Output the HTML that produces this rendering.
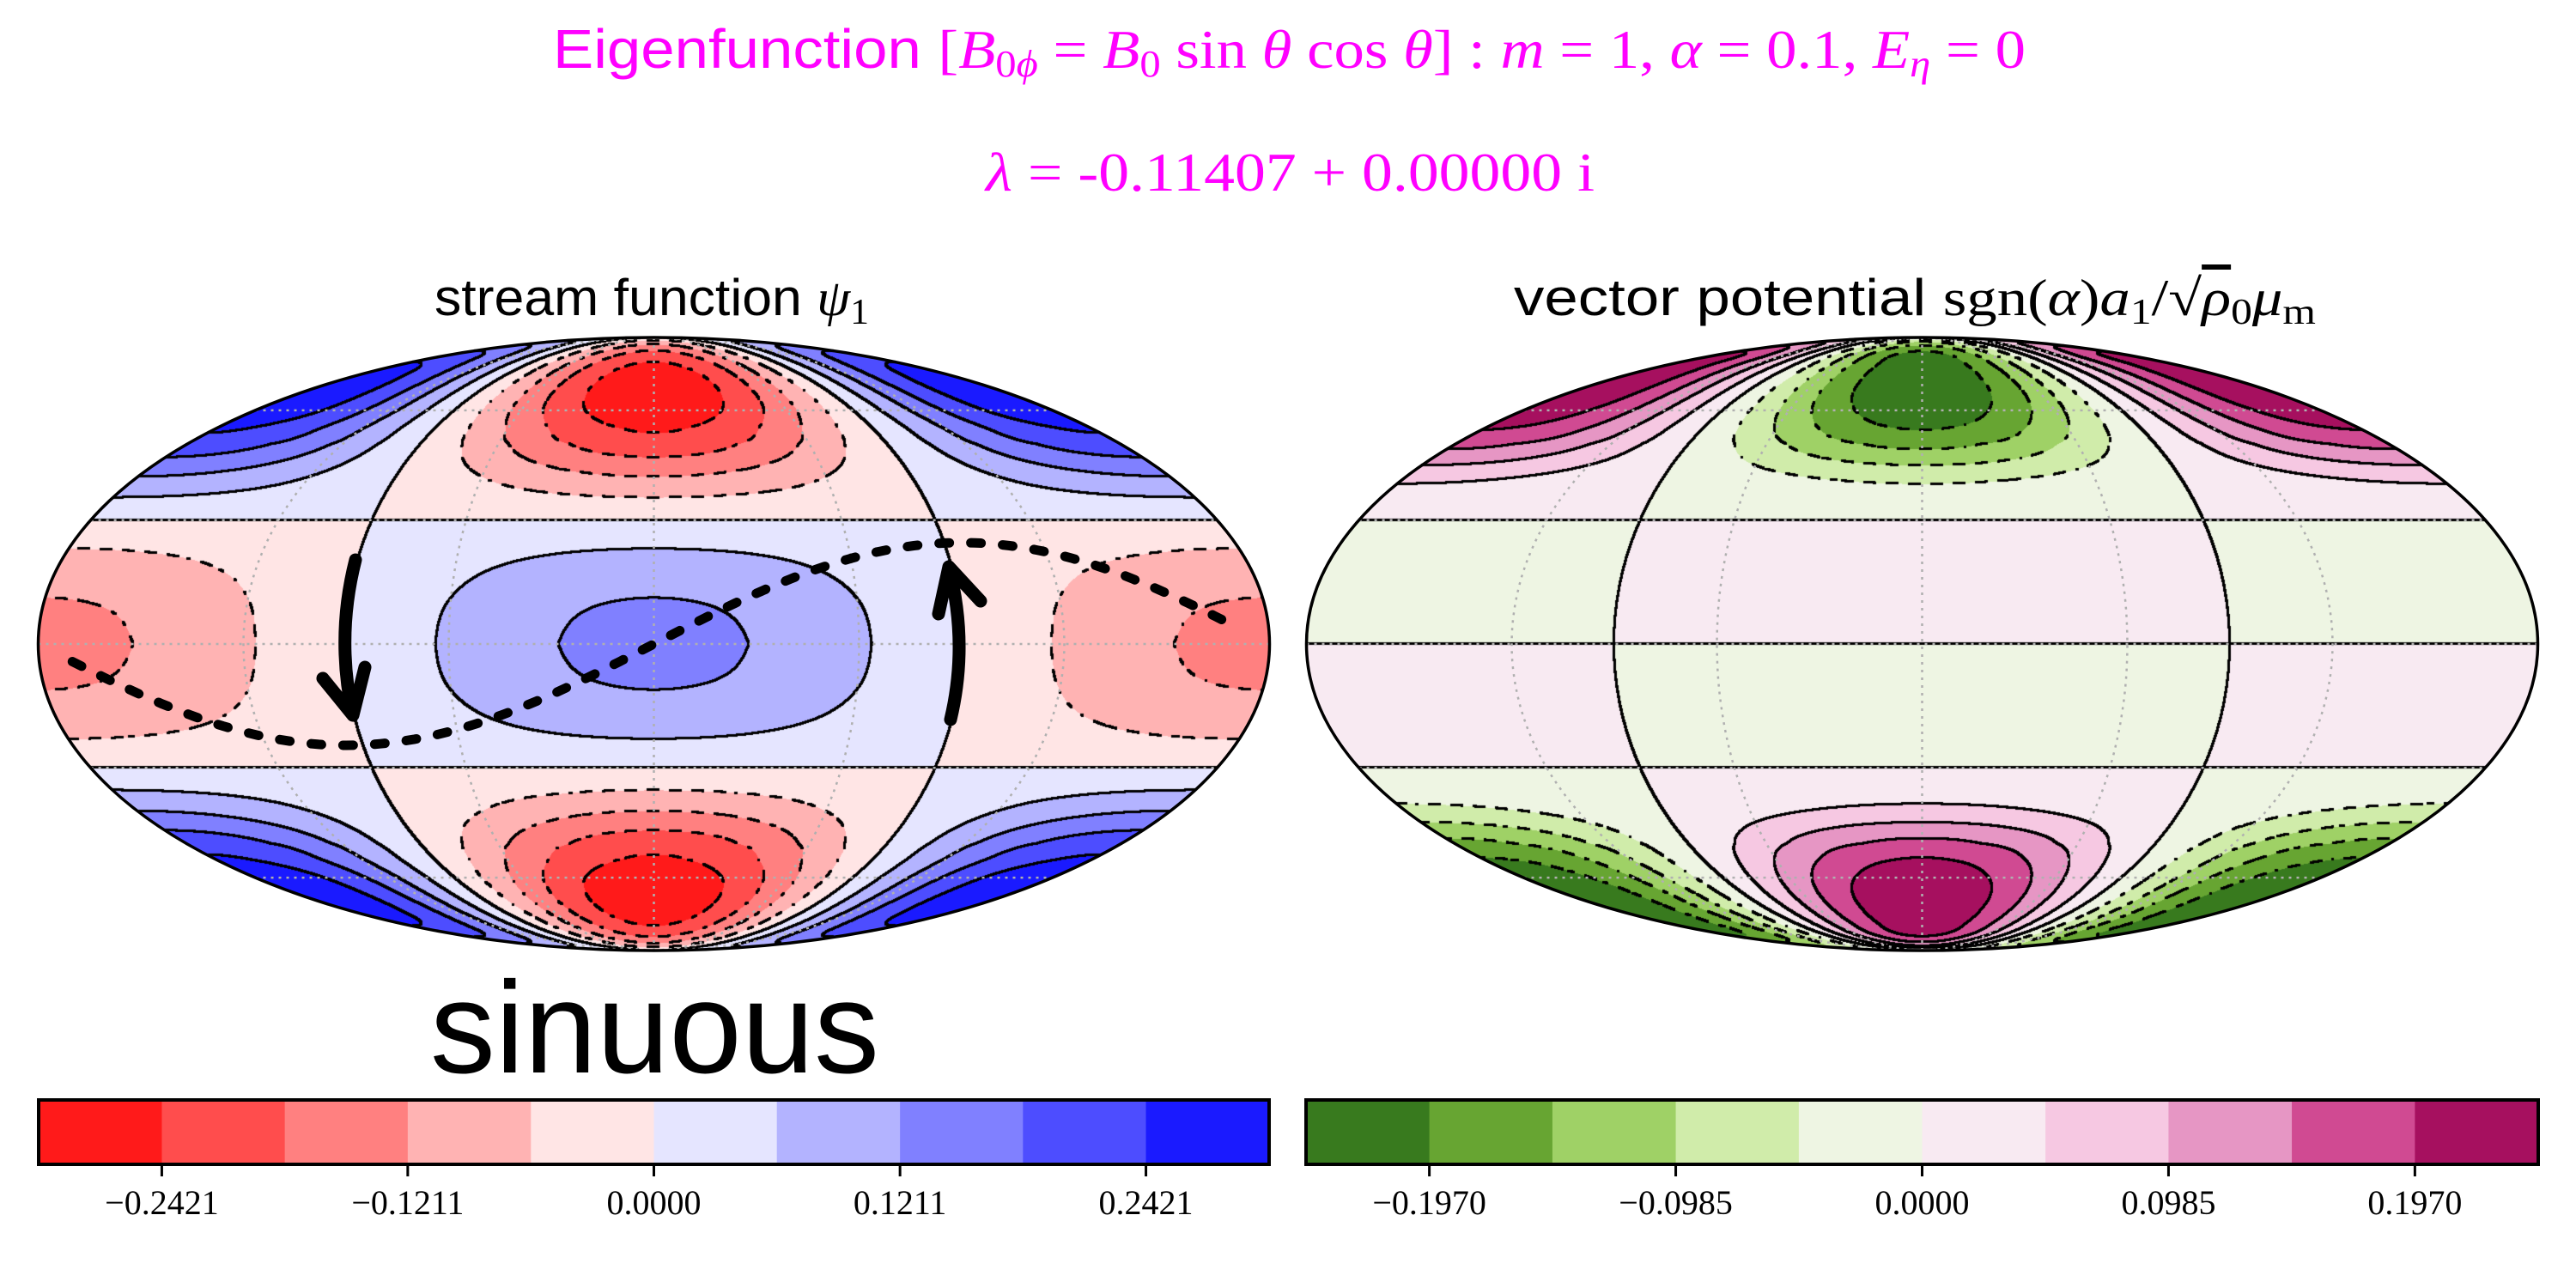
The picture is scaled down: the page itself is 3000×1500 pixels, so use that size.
<!DOCTYPE html>
<html><head><meta charset="utf-8">
<style>
html,body{margin:0;padding:0;background:#fff;}
#wrap{position:relative;width:3000px;height:1500px;overflow:hidden;}
canvas,svg{position:absolute;left:0;top:0;}
</style></head>
<body>
<div id="wrap">
<canvas id="cv" width="3000" height="1500"></canvas>
<svg id="sv" width="3000" height="1500" xmlns="http://www.w3.org/2000/svg">
  <g font-family="Liberation Serif, serif" fill="#ff00ff">
    <text x="644" y="79" font-size="64" textLength="1715" lengthAdjust="spacingAndGlyphs"><tspan font-family="Liberation Sans, sans-serif">Eigenfunction </tspan>[<tspan font-style="italic">B</tspan><tspan font-size="44" dy="10">0<tspan font-style="italic">ϕ</tspan></tspan><tspan dy="-10"> = </tspan><tspan font-style="italic">B</tspan><tspan font-size="44" dy="10">0</tspan><tspan dy="-10"> sin </tspan><tspan font-style="italic">θ</tspan> cos <tspan font-style="italic">θ</tspan>] : <tspan font-style="italic">m</tspan> = 1, <tspan font-style="italic">α</tspan> = 0.1, <tspan font-style="italic">E</tspan><tspan font-size="44" dy="10" font-style="italic">η</tspan><tspan dy="-10"> = 0</tspan></text>
    <text x="1148" y="222" font-size="64" textLength="709" lengthAdjust="spacingAndGlyphs"><tspan font-style="italic">λ</tspan> = -0.11407 + 0.00000 i</text>
  </g>
  <text x="506" y="367" font-family="Liberation Sans, sans-serif" font-size="60" textLength="506" lengthAdjust="spacingAndGlyphs">stream function <tspan font-family="Liberation Serif, serif" font-style="italic">ψ</tspan><tspan font-family="Liberation Serif, serif" font-size="42" dy="10">1</tspan></text>
  <text x="1763" y="367" font-family="Liberation Sans, sans-serif" font-size="60" textLength="934" lengthAdjust="spacingAndGlyphs">vector potential <tspan font-family="Liberation Serif, serif">sgn(<tspan font-style="italic">α</tspan>)<tspan font-style="italic">a</tspan><tspan font-size="42" dy="10">1</tspan><tspan dy="-10">/√</tspan><tspan font-style="italic" text-decoration="overline">ρ</tspan><tspan font-size="42" dy="10">0</tspan><tspan dy="-10" font-style="italic">μ</tspan><tspan font-size="42" dy="10">m</tspan></tspan></text>
  <g id="grid"></g>
  <g id="outlines"></g>
  <g id="annot"></g>
  <g id="cbars"></g>
  <text x="501" y="1249" font-family="Liberation Sans, sans-serif" font-size="152" textLength="523" lengthAdjust="spacingAndGlyphs">sinuous</text>
</svg>
</div>
<script>
// ---- data ----
const psiLevels = [-0.3027,-0.2421,-0.1816,-0.1211,-0.0605,0,0.0605,0.1211,0.1816,0.2421,0.3027];
const psiColors = ['#ff1a1a','#ff4d4d','#ff8080','#ffb3b3','#ffe5e5','#e5e5ff','#b3b3ff','#8080ff','#4d4dff','#1a1aff'];
const psiTickValues = [-0.2421,-0.1211,0,0.1211,0.2421];
const psiTickLabels = ['\u22120.2421','\u22120.1211','0.0000','0.1211','0.2421'];
const aLevels = [-0.2463,-0.1970,-0.1478,-0.0985,-0.0493,0,0.0493,0.0985,0.1478,0.1970,0.2463];
const aColors = ['#387a1e','#67a532','#9fd166','#d0ecaa','#eef5e3','#f8eaf2','#f6c8e2','#e696c4','#d04a92','#a6105f'];
const aTickValues = [-0.1970,-0.0985,0,0.0985,0.1970];
const aTickLabels = ['\u22120.1970','\u22120.0985','0.0000','0.0985','0.1970'];
// latitude profiles (deg); field = profile(lat) * cos(lon)
const profileLats = [0,10,20,30,40,50,55,60,65,70,75,80,85,90];
const psiProfile  = [0.137,0.124,0.080,0,-0.108,-0.215,-0.252,-0.282,-0.292,-0.284,-0.256,-0.205,-0.115,0];
const aProfile    = [0,0.020,0.026,0,-0.055,-0.160,-0.203,-0.228,-0.240,-0.240,-0.232,-0.212,-0.130,0]; // odd in latitude

const R2D=180/Math.PI;
const panels=[{cx:761.5,cy:750,rx:717,ry:357,levels:psiLevels,colors:psiColors,prof:psiProfile,odd:false,cbx0:45,cbx1:1478,ticks:psiTickValues,labels:psiTickLabels,name:'stream-function'},
              {cx:2238.5,cy:750,rx:717,ry:357,levels:aLevels,colors:aColors,prof:aProfile,odd:true,cbx0:1521,cbx1:2956,ticks:aTickValues,labels:aTickLabels,name:'vector-potential'}];

function interp(prof,latAbs){
  const L=profileLats; let i=0;
  while(i<L.length-2 && latAbs>L[i+1]) i++;
  const t=(latAbs-L[i])/(L[i+1]-L[i]);
  const p0=prof[Math.max(i-1,0)],p1=prof[i],p2=prof[i+1],p3=prof[Math.min(i+2,L.length-1)];
  const t2=t*t,t3=t2*t;
  return 0.5*((2*p1)+(-p0+p2)*t+(2*p0-5*p1+4*p2-p3)*t2+(-p0+3*p1-3*p2+p3)*t3);
}
function field(p,lat,lon){
  let v=interp(p.prof,Math.abs(lat));
  if(p.odd && lat<0) v=-v;
  return v*Math.cos(lon/R2D);
}
function hex(c){return [parseInt(c.slice(1,3),16),parseInt(c.slice(3,5),16),parseInt(c.slice(5,7),16)];}

const cv=document.getElementById('cv'),ctx=cv.getContext('2d');
const W=3000,H=1500;
const img=ctx.createImageData(W,H);const D=img.data;
for(let i=0;i<D.length;i+=4){D[i]=255;D[i+1]=255;D[i+2]=255;D[i+3]=255;}
panels.forEach(p=>{
  const x0=Math.floor(p.cx-p.rx)-2,x1=Math.ceil(p.cx+p.rx)+2,y0=Math.floor(p.cy-p.ry)-2,y1=Math.ceil(p.cy+p.ry)+2;
  const w=x1-x0+1,h=y1-y0+1;
  const bins=new Int16Array(w*h).fill(-1);
  const cols=p.colors.map(hex);
  for(let y=y0;y<=y1;y++){
    for(let x=x0;x<=x1;x++){
      const X=(x+0.5-p.cx)/p.rx,Y=(p.cy-(y+0.5))/p.ry;
      if(X*X+Y*Y>1) continue;
      const th=Math.asin(Math.max(-1,Math.min(1,Y)));
      const sphi=(2*th+Math.sin(2*th))/Math.PI;
      const lat=Math.asin(Math.max(-1,Math.min(1,sphi)))*R2D;
      const c=Math.cos(th);
      let lon=c>1e-6?180*X/c:0;
      if(lon>180)lon=180;if(lon<-180)lon=-180;
      const v=field(p,lat,lon);
      let b=0;while(b<9 && v>p.levels[b+1]) b++;
      bins[(y-y0)*w+(x-x0)]=b;
      const k=(y*W+x)*4;D[k]=cols[b][0];D[k+1]=cols[b][1];D[k+2]=cols[b][2];
    }
  }
  for(let y=y0;y<y1;y++){
    for(let x=x0;x<x1;x++){
      const b=bins[(y-y0)*w+(x-x0)];if(b<0) continue;
      const br=bins[(y-y0)*w+(x-x0+1)],bd=bins[(y-y0+1)*w+(x-x0)];
      let lvl=null;
      if(br>=0&&br!==b) lvl=Math.max(b,br);
      else if(bd>=0&&bd!==b) lvl=Math.max(b,bd);
      if(lvl===null) continue;
      const val=p.levels[lvl];
      if(val<-1e-9){ if(((Math.floor(x/13)+Math.floor(y/13))&1)===1) continue; }
      for(let dy=-1;dy<=1;dy++)for(let dx=-1;dx<=1;dx++){
        const k=((y+dy)*W+(x+dx))*4;D[k]=0;D[k+1]=0;D[k+2]=0;
      }
    }
  }
});
ctx.putImageData(img,0,0);

// ---- SVG overlay ----
const NS='http://www.w3.org/2000/svg';
function mk(tag,attrs,parent){const e=document.createElementNS(NS,tag);for(const k in attrs)e.setAttribute(k,attrs[k]);parent.appendChild(e);return e;}
function thetaOf(lat){const t=Math.PI*Math.sin(lat/R2D);let th=lat/R2D;for(let i=0;i<30;i++){const f=2*th+Math.sin(2*th)-t;const d=2+2*Math.cos(2*th);if(Math.abs(d)<1e-9)break;th-=f/d;}return th;}
function proj(p,lat,lon){const th=thetaOf(lat);return [p.cx+p.rx*(lon/180)*Math.cos(th),p.cy-p.ry*Math.sin(th)];}
const grid=document.getElementById('grid'),outl=document.getElementById('outlines'),cb=document.getElementById('cbars');
const gridLats=[-60,-30,0,30,60],gridLons=[-120,-60,0,60,120];
panels.forEach(p=>{
  gridLats.forEach(la=>{
    const a=proj(p,la,-180),b=proj(p,la,180);
    const ln=mk('line',{x1:a[0],y1:a[1],x2:b[0],y2:b[1],stroke:'#b0b0b0','stroke-width':2.5,'stroke-dasharray':'3 6'},grid);
    
    
  });
  gridLons.forEach(lo=>{
    let d='';for(let la=-90;la<=90;la+=2){const q=proj(p,la,lo);d+=(la===-90?'M':'L')+q[0].toFixed(1)+','+q[1].toFixed(1);}
    const pa=mk('path',{d:d,fill:'none',stroke:'#b0b0b0','stroke-width':2.5,'stroke-dasharray':'3 6'},grid);
    
    
  });
  const el=mk('ellipse',{cx:p.cx,cy:p.cy,rx:p.rx,ry:p.ry,fill:'none',stroke:'#000','stroke-width':3.5},outl);
  
  
  const top=1281,bot=1356;
  const vmin=p.levels[0],vmax=p.levels[p.levels.length-1];
  const xs=v=>p.cbx0+(v-vmin)/(vmax-vmin)*(p.cbx1-p.cbx0);
  p.colors.forEach((c,i)=>{
    const r=mk('rect',{x:xs(p.levels[i]),y:top,width:xs(p.levels[i+1])-xs(p.levels[i])+0.6,height:bot-top,fill:c},cb);
    
    
  });
  const fr=mk('rect',{x:p.cbx0,y:top,width:p.cbx1-p.cbx0,height:bot-top,fill:'none',stroke:'#000','stroke-width':4},cb);
  
  
  p.ticks.forEach((t,i)=>{
    const x=xs(t);
    const tk=mk('line',{x1:x,y1:bot,x2:x,y2:bot+14,stroke:'#000','stroke-width':3},cb);
    
    
    const tx=mk('text',{x:x,y:1414,'font-family':'Liberation Serif, serif','font-size':40,'text-anchor':'middle'},cb);
    tx.textContent=p.labels[i];
    
    
  });
});
const an=document.getElementById('annot');
const P=panels[0];
let d='';
for(let lo=-170;lo<=169;lo+=2){const x=P.cx+P.rx*lo/180;const y=P.cy-118*Math.sin(lo/R2D);d+=(lo===-170?'M':'L')+x.toFixed(1)+','+y.toFixed(1);}
const sp=mk('path',{d:d,fill:'none',stroke:'#000','stroke-width':11,'stroke-dasharray':'12 25','stroke-linecap':'round'},an);


const a1=mk('path',{d:'M414,652 Q391,742 411,833 M376,790 L411,833 L425,777',fill:'none',stroke:'#000','stroke-width':15,'stroke-linecap':'round','stroke-linejoin':'round'},an);


const a2=mk('path',{d:'M1107,838 Q1128,750 1105,660 M1093,715 L1105,660 L1142,700',fill:'none',stroke:'#000','stroke-width':15,'stroke-linecap':'round','stroke-linejoin':'round'},an);


</script>
</body></html>
